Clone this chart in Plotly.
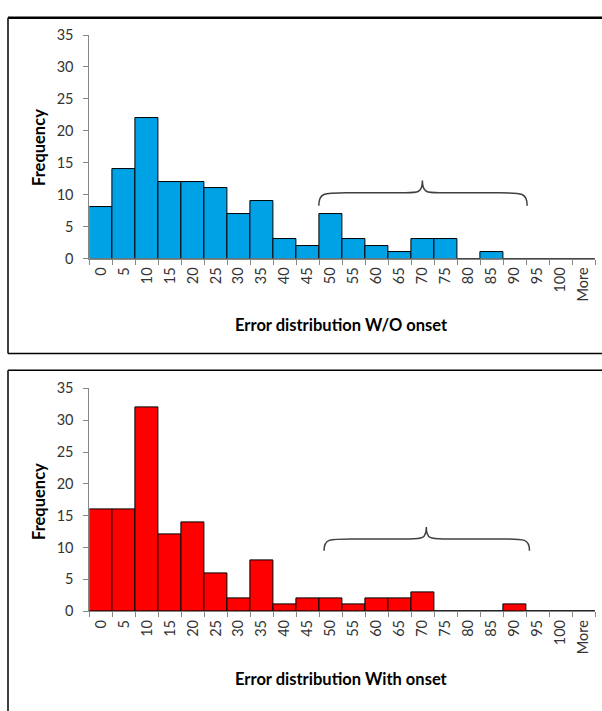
import plotly.graph_objects as go

# ---- data ----
bins = ["0", "5", "10", "15", "20", "25", "30", "35", "40", "45", "50",
        "55", "60", "65", "70", "75", "80", "85", "90", "95", "100", "More"]
freq_without = [8, 14, 22, 12, 12, 11, 7, 9, 3, 2, 7, 3, 2, 1, 3, 3, 0, 1, 0, 0, 0, 0]
freq_with = [16, 16, 32, 12, 14, 6, 2, 8, 1, 2, 2, 1, 2, 2, 3, 0, 0, 0, 1, 0, 0, 0]
titles = ["Error distribution W/O onset", "Error distribution With onset"]
y_ticks = [0, 5, 10, 15, 20, 25, 30, 35]
# brace annotation: (left idx, tip idx, right idx, end y, horizontal y, tip y)
brace_top = (9.48, 13.99, 18.55, 8.26, 10.3, 12.23)
brace_bottom = (9.71, 14.16, 18.65, 9.52, 11.36, 13.25)

W, H = 602, 711
FONT = "Lato"
idx = list(range(len(bins)))

fig = go.Figure()
fig.add_trace(go.Bar(x=idx, y=freq_without, width=1, xaxis="x", yaxis="y",
                     marker=dict(color="#00A2E6", line=dict(color="black", width=1)),
                     showlegend=False))
fig.add_trace(go.Bar(x=idx, y=freq_with, width=1, xaxis="x2", yaxis="y2",
                     marker=dict(color="#FF0000", line=dict(color="black", width=1)),
                     showlegend=False))

def py(y):
    return (H - y) / H

xdom = [89.4 / W, 595 / W]
axis_grey = "#868686"
tickfont = dict(family=FONT, size=14.5, color="#333333")

def xaxis_cfg(anchor):
    return dict(domain=xdom, anchor=anchor, range=[-0.5, len(bins) - 0.5],
                tickmode="array", tickvals=idx, ticktext=bins, tickangle=-90,
                ticks="", showgrid=False, zeroline=False,
                showline=True, linecolor=axis_grey, linewidth=1,
                tickfont=tickfont, fixedrange=True, ticklabelstandoff=2,
                minor=dict(tickmode="array", tickvals=[i - 0.5 for i in range(len(bins) + 1)],
                           ticks="outside", ticklen=5, tickcolor=axis_grey, tickwidth=1,
                           showgrid=False))

def yaxis_cfg(anchor, dom):
    return dict(domain=dom, anchor=anchor, range=[0, 35], tickmode="array",
                tickvals=y_ticks, ticks="outside", ticklen=5, tickcolor=axis_grey,
                showgrid=False, zeroline=False, showline=True, linecolor=axis_grey,
                linewidth=1, tickfont=tickfont, fixedrange=True, ticklabelstandoff=7)

fig.update_layout(
    width=W, height=H, margin=dict(l=0, r=0, t=0, b=0),
    paper_bgcolor="white", plot_bgcolor="white", bargap=0,
    xaxis=xaxis_cfg("y"),
    yaxis=yaxis_cfg("x", [py(255.7), py(26.7)]),
    xaxis2=xaxis_cfg("y2"),
    yaxis2=yaxis_cfg("x2", [py(617), py(388.7)]),
)

def brace_path(b):
    x0, xt, x1, ye, yh, yt = b
    r = 1.2
    c = 0.75
    return (f"M {x0},{ye} C {x0},{yh} {x0 + 0.2},{yh} {x0 + r},{yh} "
            f"L {xt - c},{yh} C {xt - 0.2},{yh} {xt},{yh} {xt},{yt} "
            f"C {xt},{yh} {xt + 0.2},{yh} {xt + c},{yh} "
            f"L {x1 - r},{yh} C {x1 - 0.2},{yh} {x1},{yh} {x1},{ye}")

shapes = [
    dict(type="path", xref="x", yref="y", path=brace_path(brace_top),
         line=dict(color="#404040", width=1.5)),
    dict(type="path", xref="x2", yref="y2", path=brace_path(brace_bottom),
         line=dict(color="#404040", width=1.5)),
    # frames
    dict(type="line", xref="paper", yref="paper", x0=8 / W, x1=1.02, y0=py(9), y1=py(9),
         line=dict(color="black", width=2.5)),
    dict(type="line", xref="paper", yref="paper", x0=8 / W, x1=8 / W, y0=py(9), y1=py(353),
         line=dict(color="black", width=1.5)),
    dict(type="line", xref="paper", yref="paper", x0=8 / W, x1=1.02, y0=py(353), y1=py(353),
         line=dict(color="black", width=1.5)),
    dict(type="line", xref="paper", yref="paper", x0=8 / W, x1=1.02, y0=py(370), y1=py(370),
         line=dict(color="black", width=1.5)),
    dict(type="line", xref="paper", yref="paper", x0=8 / W, x1=8 / W, y0=py(370), y1=-0.02,
         line=dict(color="black", width=1.5)),
]
fig.update_layout(shapes=shapes)

ann = []
for title, ty, fy in [(titles[0], 324, 142), (titles[1], 686.7, 504.7)]:
    ann.append(dict(text=f"<b>{title}</b>", x=341 / W, y=py(ty), xref="paper", yref="paper",
                    showarrow=False, xanchor="center", yanchor="middle",
                    font=dict(family=FONT, size=16.5, color="black")))
    ann.append(dict(text="<b>Frequency</b>", x=38.4 / W, y=py(fy), xref="paper", yref="paper",
                    showarrow=False, xanchor="center", yanchor="middle", textangle=-90,
                    font=dict(family=FONT, size=16.5, color="black")))
fig.update_layout(annotations=ann)

fig.write_html("out.html")
